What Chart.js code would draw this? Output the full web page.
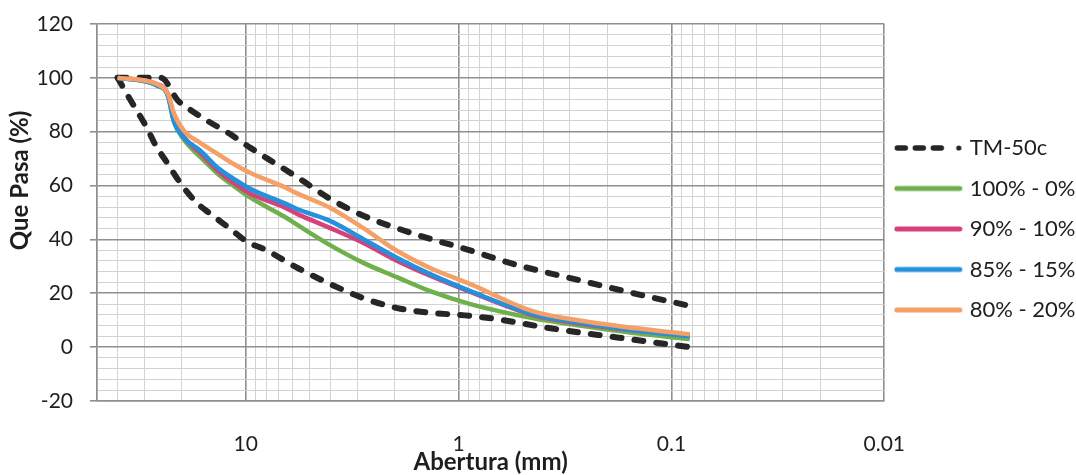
<!DOCTYPE html>
<html>
<head>
<meta charset="utf-8">
<script src="https://cdn.jsdelivr.net/npm/chart.js@4.4.1/dist/chart.umd.min.js"></script>
<style>
  body { margin: 0; background: #fff; }
  #wrap { width: 1076px; height: 475px; position: relative; }
</style>
</head>
<body>
<div id="wrap"><canvas id="granChart"></canvas></div>
<script>
// abertura (mm) / % que pasa

// TM-50c band, upper limit
const upperSizes = [40, 25, 20.8, 18.1, 15.1, 12.1, 9.5, 7.9, 5.7, 4.0, 2.8, 1.84, 1.33, 0.96, 0.53, 0.26, 0.145, 0.084];
const upperPass  = [100, 100, 91.5, 88, 84, 79.6, 74, 70, 63, 55, 48.8, 43.5, 40, 36.8, 30.5, 24.5, 19.7, 15.5];

// TM-50c band, lower limit
const lowerSizes = [40, 34.6, 29.4, 26.4, 23.2, 20.6, 17.2, 14.6, 11.8, 9.8, 8.2, 5.7, 4.0, 2.8, 1.94, 1.36, 0.88, 0.66, 0.37, 0.18, 0.082];
const lowerPass  = [100, 91.4, 82, 74.7, 68, 61.7, 54, 49.4, 43.9, 39, 36.4, 29.4, 23.4, 18.2, 14.5, 12.8, 11.6, 10.4, 7, 3.6, 0];

// mixes
const mixSizes = [40, 26.4, 23.2, 21.8, 19.5, 16.3, 13.5, 11.4, 9.5, 6.6, 5.7, 4.0, 2.8, 1.94, 1.36, 0.88, 0.45, 0.26, 0.15, 0.082];
const mix100 = [100, 97.3, 93.3, 84, 77, 70.5, 64.3, 59.9, 55.5, 48.5, 45.3, 37.8, 31.3, 25.9, 20.8, 16, 10.8, 7.8, 5.2, 3];
const mix90  = [100, 97.8, 94, 86, 78, 72, 65.5, 61, 57, 52, 49.4, 44.2, 38.7, 32, 26.5, 20.5, 12, 8.6, 6.2, 4.2];
const mix85  = [100, 97.3, 93.3, 84, 77.7, 72.9, 66.5, 62.5, 58.7, 53.5, 51.2, 46.8, 40.1, 33.1, 27.1, 20.8, 12.3, 8.9, 6.3, 4];
const mix80  = [100, 97.8, 94, 87, 80.3, 75.8, 71.7, 68, 64.7, 59.5, 57, 51.7, 44.2, 35.7, 29.4, 23.4, 13.4, 9.7, 7.1, 4.8];

const seriesLabels = ['TM-50c', '100% - 0%', '90% - 10%', '85% - 15%', '80% - 20%'];
const xTickValues = [10, 1, 0.1, 0.01];

function pts(xs, ys) {
  return xs.map((x, i) => ({ x: x, y: ys[i] }));
}

function isDecade(v) {
  const l = Math.log10(v);
  return Math.abs(l - Math.round(l)) < 1e-9;
}

// little line drawn in the legend (excel style)
function legendGlyph(color, dashed) {
  const c = document.createElement('canvas');
  c.width = 74;
  c.height = 18;
  const g = c.getContext('2d');
  g.strokeStyle = color;
  g.fillStyle = color;
  g.lineCap = 'round';
  if (dashed) {
    g.lineWidth = 5.5;
    g.setLineDash([8, 10]);
    g.beginPath(); g.moveTo(3.5, 9); g.lineTo(57, 9); g.stroke();
    g.beginPath(); g.arc(65, 9, 2.6, 0, Math.PI * 2); g.fill();
  } else {
    g.lineWidth = 5;
    g.beginPath(); g.moveTo(3, 9); g.lineTo(66, 9); g.stroke();
  }
  return c;
}

const FONT = 'Lato, "Open Sans", sans-serif';
const TXT = '#1e1e1e';
const GRID_MAJOR = '#8f8f8f';
const GRID_MINOR = '#d2d2d2';

const bandGlyph = legendGlyph('#262626', true);
const dashed = {
  borderColor: '#262626',
  backgroundColor: '#262626',
  borderWidth: 6,
  borderDash: [9, 13],
  borderCapStyle: 'round',
  pointStyle: bandGlyph,
  order: 6
};

function solid(color, order) {
  return {
    borderColor: color,
    backgroundColor: color,
    borderWidth: 4.5,
    pointStyle: legendGlyph(color, false),
    order: order
  };
}

const ctx = document.getElementById('granChart');

const chart = new Chart(ctx, {
  type: 'scatter',
  data: {
    datasets: [
      Object.assign({ label: seriesLabels[0], data: pts(upperSizes, upperPass) }, dashed),
      Object.assign({ label: '', data: pts(lowerSizes, lowerPass) }, dashed),
      Object.assign({ label: seriesLabels[1], data: pts(mixSizes, mix100) }, solid('#6fb04d', 4)),
      Object.assign({ label: seriesLabels[2], data: pts(mixSizes, mix90) }, solid('#d6407b', 3)),
      Object.assign({ label: seriesLabels[3], data: pts(mixSizes, mix85) }, solid('#2590dc', 2)),
      Object.assign({ label: seriesLabels[4], data: pts(mixSizes, mix80) }, solid('#f4a067', 1))
    ]
  },
  options: {
    responsive: true,
    maintainAspectRatio: false,
    animation: false,
    devicePixelRatio: 1,
    showLine: true,
    layout: { padding: { top: 9, right: -9.5, bottom: 0, left: 0 } },
    elements: {
      point: { radius: 0, hoverRadius: 0 },
      line: { cubicInterpolationMode: 'monotone', fill: false }
    },
    scales: {
      x: {
        type: 'logarithmic',
        reverse: true,
        min: 0.01,
        max: 50,
        afterBuildTicks: (scale) => {
          const t = [];
          [0.01, 0.1, 1, 10].forEach(d => {
            for (let k = 1; k <= 9; k++) {
              const v = +(d * k).toPrecision(6);
              if (v <= 50) t.push({ value: v });
            }
          });
          t.push({ value: 50 });
          scale.ticks = t;
        },
        afterFit: (scale) => { scale.height = 74; },
        ticks: {
          autoSkip: false,
          maxRotation: 0,
          padding: 30.5,
          color: TXT,
          font: { family: FONT, size: 21 },
          callback: (v) => xTickValues.includes(+(+v).toPrecision(6)) ? String(+(+v).toPrecision(6)) : ''
        },
        grid: {
          drawTicks: false,
          color: (c) => c.tick && isDecade(c.tick.value) ? GRID_MAJOR : GRID_MINOR,
          lineWidth: (c) => c.tick && isDecade(c.tick.value) ? 1.6 : 1
        },
        border: { color: GRID_MAJOR, width: 1.6 },
        title: {
          display: true,
          text: 'Abertura (mm)',
          color: TXT,
          font: { family: FONT, size: 24, weight: 'bold' },
          padding: { top: 0, bottom: -1.5 }
        }
      },
      y: {
        min: -20,
        max: 120,
        afterFit: (scale) => {
          scale.width = 97;
          scale.paddingTop = 24;
        },
        ticks: {
          stepSize: 4,
          autoSkip: false,
          padding: 17,
          color: TXT,
          font: { family: FONT, size: 21 },
          callback: (v) => v % 20 === 0 ? String(v) : ''
        },
        grid: {
          tickLength: 7,
          color: (c) => c.tick && c.tick.value % 20 === 0 ? GRID_MAJOR : GRID_MINOR,
          tickColor: (c) => c.tick && c.tick.value % 20 === 0 ? GRID_MAJOR : 'rgba(0,0,0,0)',
          lineWidth: (c) => c.tick && c.tick.value % 20 === 0 ? 1.6 : 1
        },
        border: { color: GRID_MAJOR, width: 1.6 },
        title: {
          display: true,
          // leading spaces push the rotated title up a bit, like in the original
          text: '           Que Pasa (%)',
          color: TXT,
          font: { family: FONT, size: 24, weight: 'bold' },
          padding: { top: 6, bottom: 0 }
        }
      }
    },
    plugins: {
      tooltip: { enabled: false },
      legend: {
        position: 'right',
        align: 'start',
        title: {
          display: true,
          text: ' ',
          font: { size: 10 },
          padding: { top: 0, bottom: 97.5 }
        },
        labels: {
          usePointStyle: true,
          pointStyleWidth: 56,
          padding: 18.5,
          color: TXT,
          font: { family: FONT, size: 22 },
          filter: (item) => item.text !== '',
          sort: (a, b) => a.datasetIndex - b.datasetIndex
        }
      }
    }
  }
});
</script>
</body>
</html>
